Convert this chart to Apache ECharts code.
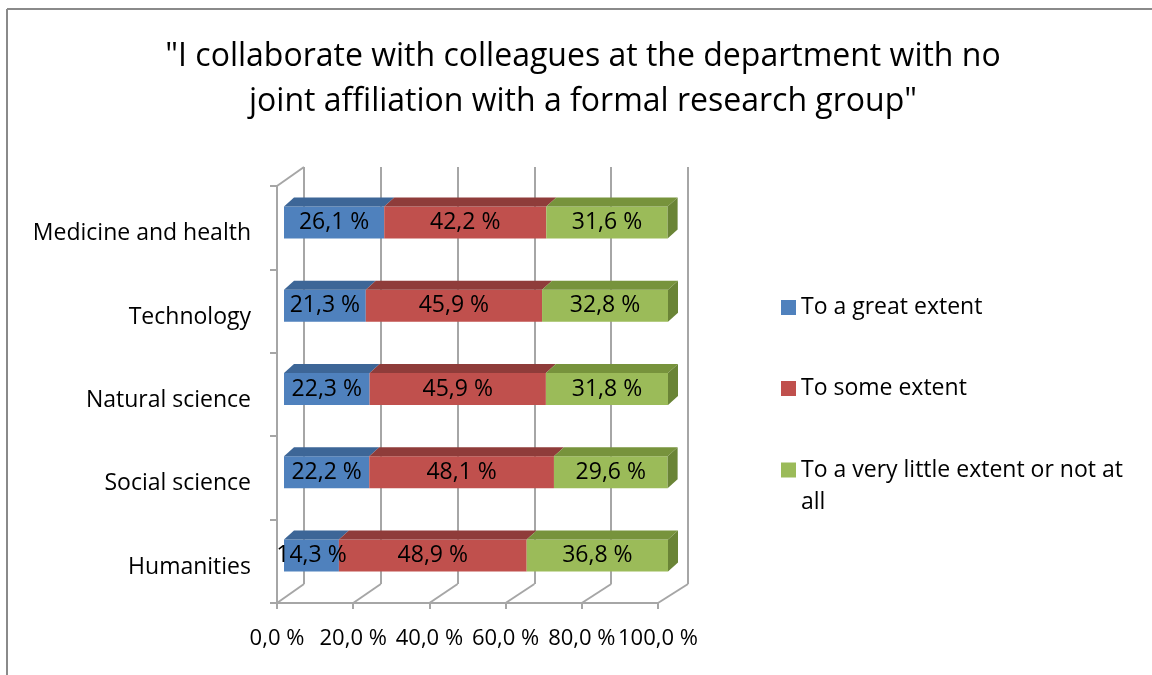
<!DOCTYPE html>
<html><head><meta charset="utf-8">
<script src="https://cdn.jsdelivr.net/npm/echarts@6/dist/echarts.min.js"></script>
<style>html,body{margin:0;padding:0;background:#fff}#c{width:1152px;height:675px}</style>
</head><body><div id="c"></div>
<script>
const categories = ['Humanities', 'Social science', 'Natural science', 'Technology', 'Medicine and health'];
const seriesNames = ['To a great extent', 'To some extent', 'To a very little extent or not at all'];
const greatExtent = [14.3, 22.2, 22.3, 21.3, 26.1];
const someExtent = [48.9, 48.1, 45.9, 45.9, 42.2];
const littleExtent = [36.8, 29.6, 31.8, 32.8, 31.6];
const tickValues = [0, 20, 40, 60, 80, 100];

const FONT = 'Open Sans';
const frontColors = ['#4F81BD', '#C0504D', '#9BBB59'];
const topColors = ['#3D6697', '#8F3C3A', '#77933C'];
const sideColor = '#6A8436';
const gridColor = '#A6A6A6';
const DX = 10, DY = -9, BAR_H = 32;

const allValues = [greatExtent, someExtent, littleExtent];
function fmt(v) { return v.toFixed(1).replace('.', ',') + ' %'; }

function buildData(s) {
  return categories.map((c, i) => {
    let start = 0;
    for (let k = 0; k < s; k++) start += allValues[k][i];
    return [start, start + allValues[s][i], i, allValues[s][i]];
  });
}

function makeRender(s) {
  return function (params, api) {
    const p0 = api.coord([api.value(0), api.value(2)]);
    const p1 = api.coord([api.value(1), api.value(2)]);
    const x0 = p0[0], x1 = p1[0], cy = p0[1];
    const yt = cy - BAR_H / 2, yb = cy + BAR_H / 2;
    const children = [
      { type: 'rect', shape: { x: x0, y: yt, width: x1 - x0, height: BAR_H }, style: { fill: frontColors[s] } },
      { type: 'polygon', shape: { points: [[x0, yt], [x1, yt], [x1 + DX, yt + DY], [x0 + DX, yt + DY]] }, style: { fill: topColors[s] } }
    ];
    if (s === 2) {
      children.push({ type: 'polygon', shape: { points: [[x1, yt], [x1 + DX, yt + DY], [x1 + DX, yb + DY], [x1, yb]] }, style: { fill: sideColor } });
    }
    children.push({
      type: 'text', z2: 100,
      style: { text: fmt(api.value(3)), x: (x0 + x1) / 2, y: cy, align: 'center', verticalAlign: 'middle', fill: '#000', fontSize: 23, fontFamily: FONT }
    });
    return { type: 'group', children: children };
  };
}

const chart = echarts.init(document.getElementById('c'));
const legendText = { fontFamily: FONT, fontSize: 23, color: '#000', lineHeight: 23 };
chart.setOption({
  animation: false,
  backgroundColor: '#fff',
  title: {
    text: '"I collaborate with colleagues at the department with no\njoint affiliation with a formal research group"',
    left: 583, top: 34, textAlign: 'center', padding: 0,
    textStyle: { fontFamily: FONT, fontSize: 32, fontWeight: 'normal', color: '#000', lineHeight: 45 }
  },
  legend: [
    { data: [seriesNames[0]], orient: 'vertical', left: 781, top: 296, padding: 0, itemWidth: 15, itemHeight: 15, icon: 'rect', textStyle: legendText },
    { data: [seriesNames[1]], orient: 'vertical', left: 781, top: 377, padding: 0, itemWidth: 15, itemHeight: 15, icon: 'rect', textStyle: legendText },
    { data: [seriesNames[2]], orient: 'vertical', left: 781, top: 422, padding: 0, itemWidth: 15, itemHeight: 15, icon: 'rect',
      formatter: function () { return '\u00a0\nTo a very little extent or not at\nall'; },
      textStyle: { fontFamily: FONT, fontSize: 23, color: '#000', lineHeight: 32 } }
  ],
  grid: [
    { left: 284, width: 384, top: 181, height: 416 },
    { left: 304, width: 384, top: 167, height: 417 },
    { left: 277, width: 381, top: 186, height: 417 }
  ],
  xAxis: [
    { gridIndex: 0, type: 'value', min: 0, max: 100, show: false },
    { gridIndex: 1, type: 'value', min: 0, max: 100, interval: 20,
      axisLine: { show: false }, axisTick: { show: false }, axisLabel: { show: false },
      splitLine: { show: true, lineStyle: { color: gridColor, width: 2 } } },
    { gridIndex: 2, type: 'value', min: 0, max: 100, interval: 20,
      axisLine: { show: true, lineStyle: { color: gridColor, width: 2 } },
      axisTick: { show: true, length: 6, lineStyle: { color: gridColor, width: 2 } },
      axisLabel: { formatter: fmt, fontFamily: FONT, fontSize: 22, color: '#000', margin: 25 },
      splitLine: { show: false } }
  ],
  yAxis: [
    { gridIndex: 0, type: 'category', data: categories, show: false },
    { gridIndex: 1, type: 'category', data: categories, show: false },
    { gridIndex: 2, type: 'category', data: categories,
      axisLine: { show: true, lineStyle: { color: gridColor, width: 2 } },
      axisTick: { show: true, length: 7, lineStyle: { color: gridColor, width: 2 } },
      axisLabel: { fontFamily: FONT, fontSize: 23, color: '#000', margin: 26, verticalAlign: 'top', lineHeight: 12 },
      splitLine: { show: false } }
  ],
  series: seriesNames.map((name, s) => ({
    name: name, type: 'custom', xAxisIndex: 0, yAxisIndex: 0,
    itemStyle: { color: frontColors[s] },
    renderItem: makeRender(s), data: buildData(s)
  }))
});

// 3D floor/wall edges derived from the axes
const g = [];
tickValues.forEach(v => {
  const front = chart.convertToPixel({ xAxisIndex: 2 }, v);
  const back = chart.convertToPixel({ xAxisIndex: 1 }, v);
  const yFront = chart.convertToPixel({ yAxisIndex: 2 }, categories[0]) + 41.7;
  const yBack = chart.convertToPixel({ yAxisIndex: 1 }, categories[0]) + 41.7;
  g.push({ type: 'line', shape: { x1: front, y1: yFront, x2: back, y2: yBack }, style: { stroke: gridColor, lineWidth: 2 }, silent: true });
});
{
  const xf = chart.convertToPixel({ xAxisIndex: 2 }, 0);
  const xb = chart.convertToPixel({ xAxisIndex: 1 }, 0);
  const yf = chart.convertToPixel({ yAxisIndex: 2 }, categories[4]) - 41.7;
  const yb = chart.convertToPixel({ yAxisIndex: 1 }, categories[4]) - 41.7;
  g.push({ type: 'line', shape: { x1: xf, y1: yf, x2: xb, y2: yb }, style: { stroke: gridColor, lineWidth: 2 }, silent: true });
}
g.push({ type: 'line', shape: { x1: 7, y1: 9, x2: 1152, y2: 9 }, style: { stroke: '#8A8A8A', lineWidth: 2 }, silent: true });
g.push({ type: 'line', shape: { x1: 7, y1: 9, x2: 7, y2: 675 }, style: { stroke: '#8A8A8A', lineWidth: 2 }, silent: true });
chart.setOption({ graphic: g });
</script>
</body></html>
